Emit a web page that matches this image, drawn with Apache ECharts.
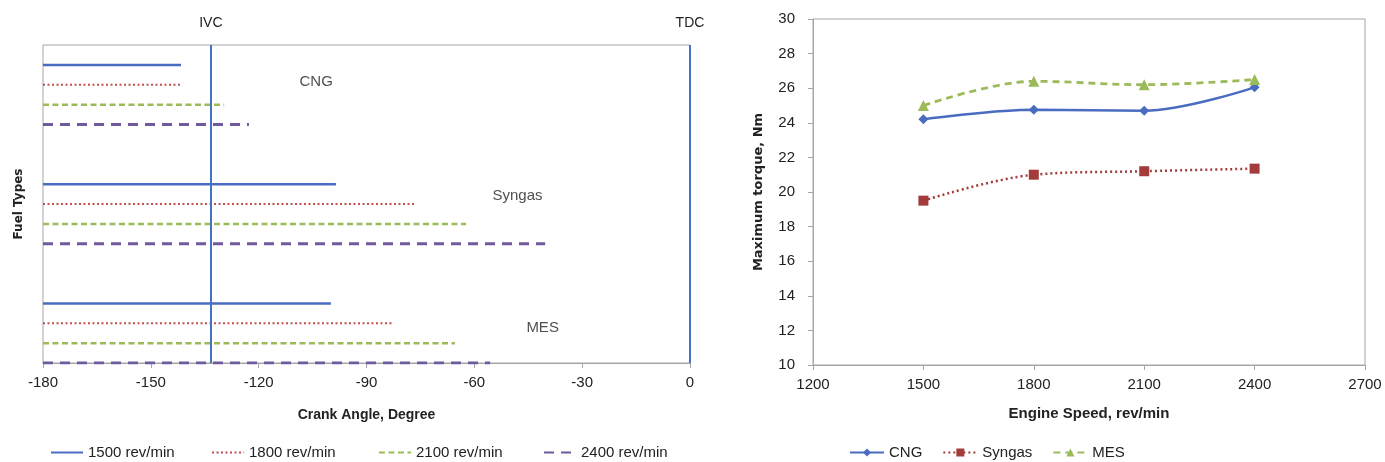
<!DOCTYPE html>
<html><head><meta charset="utf-8">
<script src="https://cdn.jsdelivr.net/npm/echarts@6/dist/echarts.min.js"></script>
<style>html,body{margin:0;padding:0;background:#fff}#c{width:1385px;height:462px}</style>
</head><body><div id="c"></div>
<script>
// ---- Left chart data ----
const fuelTypes = ['CNG', 'Syngas', 'MES'];
const speedNames = ['1500 rev/min', '1800 rev/min', '2100 rev/min', '2400 rev/min'];
const crankStart = -180;
const cngEnd = [-141.6, -141.8, -129.6, -122.7];
const syngasEnd = [-98.5, -76.2, -62.3, -40.3];
const mesEnd = [-99.9, -82.4, -65.4, -55.6];
const ivcAngle = -133.3;
const tdcAngle = 0;
// annotation anchor (crank angle, row) for fuel names
const fuelLabelAngle = [-104, -48, -41];
const fuelLabelRow = [1.85, 7.6, 14.25];

// ---- Right chart data ----
const engineSpeeds = [1500, 1800, 2100, 2400];
const torqueNames = ['CNG', 'Syngas', 'MES'];
const cngTorque = [24.2, 24.75, 24.7, 26.05];
const syngasTorque = [19.5, 21.0, 21.2, 21.35];
const mesTorque = [25.0, 26.4, 26.2, 26.5];

const FONT = 'Liberation Sans, Arial, sans-serif';
const BOLDV = 'DejaVu Sans, Verdana, sans-serif';
const GRAY = '#a6a6a6';

const endsByFuel = [cngEnd, syngasEnd, mesEnd];
const speedStyles = [
  { color: '#4a6cc0', type: 'solid', width: 2.5 },
  { color: '#c0504d', type: [2, 2.5], width: 2 },
  { color: '#9bbb59', type: [6, 3.5], width: 2.5 },
  { color: '#6f5a9e', type: [10, 7], width: 2.8 }
];

const series = [];
endsByFuel.forEach((ends, f) => {
  ends.forEach((end, s) => {
    const row = f * 6 + s + 1;
    series.push({
      type: 'line', name: speedNames[s], xAxisIndex: 0, yAxisIndex: 0,
      symbol: 'none', silent: true, animation: false,
      color: speedStyles[s].color,
      lineStyle: Object.assign({}, speedStyles[s]),
      data: [[crankStart, row], [end, row]]
    });
  });
});

// fuel name labels + IVC/TDC lines
series.push({
  type: 'scatter', name: 'labels', xAxisIndex: 0, yAxisIndex: 0,
  symbol: 'circle', symbolSize: 1, silent: true, animation: false,
  itemStyle: { color: 'rgba(0,0,0,0)' },
  label: { show: true, position: 'inside', formatter: p => p.value[2],
           fontFamily: FONT, fontSize: 15, color: '#222' },
  data: fuelTypes.map((n, i) => [fuelLabelAngle[i], fuelLabelRow[i], n]),
  markLine: {
    silent: true, symbol: ['none', 'none'], animation: false,
    lineStyle: { color: '#4472c4', width: 2, type: 'solid' },
    label: { show: true, position: 'start', formatter: '{b}', distance: 15,
             fontFamily: FONT, fontSize: 14, color: '#222' },
    data: [
      [{ coord: [ivcAngle, 0], name: 'IVC' }, { coord: [ivcAngle, 16] }],
      [{ coord: [tdcAngle, 0], name: 'TDC' }, { coord: [tdcAngle, 16] }]
    ]
  }
});

const torqueSets = [cngTorque, syngasTorque, mesTorque];
const torqueStyles = [
  { color: '#4a6cc0', symbol: 'diamond', size: 10, line: { type: 'solid', width: 2.5 } },
  { color: '#a33b3b', symbol: 'rect', size: 10, line: { type: [2, 3], width: 2.5 } },
  { color: '#9bbb59', symbol: 'triangle', size: 11, line: { type: [7, 5], width: 2.8 } }
];
torqueSets.forEach((vals, i) => {
  const st = torqueStyles[i];
  series.push({
    type: 'line', name: torqueNames[i], xAxisIndex: 1, yAxisIndex: 1,
    smooth: 0.35, symbol: st.symbol, symbolSize: st.size, animation: false,
    color: st.color,
    itemStyle: { color: st.color },
    lineStyle: Object.assign({ color: st.color }, st.line),
    data: engineSpeeds.map((x, k) => [x, vals[k]])
  });
});

const legendText = { fontFamily: FONT, fontSize: 15, color: '#222' };
const leftLegendX = [50, 211, 378, 543];

const option = {
  backgroundColor: '#fff',
  animation: false,
  grid: [
    { left: 43, right: 695, top: 45, bottom: 99, show: true, borderColor: GRAY, borderWidth: 1 },
    { left: 813, right: 20, top: 19, bottom: 97, show: true, borderColor: GRAY, borderWidth: 1 }
  ],
  xAxis: [
    { gridIndex: 0, type: 'value', min: -180, max: 0, interval: 30, position: 'bottom',
      axisLine: { show: true, onZero: false, lineStyle: { color: GRAY } },
      axisTick: { show: true, length: 5, lineStyle: { color: GRAY } },
      splitLine: { show: false },
      axisLabel: { fontFamily: FONT, fontSize: 15, color: '#222', margin: 12 },
      name: 'Crank Angle, Degree', nameLocation: 'middle', nameGap: 45,
      nameTextStyle: { fontFamily: FONT, fontSize: 14, fontWeight: 'bold', color: '#222' } },
    { gridIndex: 1, type: 'value', min: 1200, max: 2700, interval: 300, position: 'bottom',
      axisLine: { show: true, onZero: false, lineStyle: { color: GRAY } },
      axisTick: { show: true, length: 5, lineStyle: { color: GRAY } },
      splitLine: { show: false },
      axisLabel: { fontFamily: FONT, fontSize: 15, color: '#222', margin: 12,
                   formatter: v => String(v) },
      name: 'Engine Speed, rev/min', nameLocation: 'middle', nameGap: 41,
      nameTextStyle: { fontFamily: FONT, fontSize: 15, fontWeight: 'bold', color: '#222' } }
  ],
  yAxis: [
    { gridIndex: 0, type: 'value', min: 0, max: 16, inverse: true,
      axisLine: { show: false }, axisTick: { show: false }, axisLabel: { show: false },
      splitLine: { show: false },
      name: 'Fuel Types', nameLocation: 'middle', nameGap: 18,
      nameTextStyle: { fontFamily: BOLDV, fontSize: 12, fontWeight: 'bold', color: '#222' } },
    { gridIndex: 1, type: 'value', min: 10, max: 30, interval: 2,
      axisLine: { show: true, onZero: false, lineStyle: { color: GRAY } },
      axisTick: { show: true, length: 5, lineStyle: { color: GRAY } },
      splitLine: { show: false },
      axisLabel: { fontFamily: FONT, fontSize: 15, color: '#222', margin: 18 },
      name: 'Maximum torque, Nm', nameLocation: 'middle', nameGap: 48,
      nameTextStyle: { fontFamily: BOLDV, fontSize: 13, fontWeight: 'bold', color: '#222' } }
  ],
  legend: [
    ...speedNames.map((n, i) => ({
      data: [n], left: leftLegendX[i], top: 445, itemWidth: 32, itemHeight: 14,
      itemGap: 0, padding: 0, textStyle: legendText, selectedMode: false,
      itemStyle: { opacity: 0 }
    })),
    { data: torqueNames, left: 849, top: 445, itemWidth: 34, itemHeight: 10, padding: 0,
      itemGap: 20, textStyle: legendText, selectedMode: false }
  ],
  series: series
};

const chart = echarts.init(document.getElementById('c'), null, { renderer: 'canvas' });
chart.setOption(option);
</script></body></html>
